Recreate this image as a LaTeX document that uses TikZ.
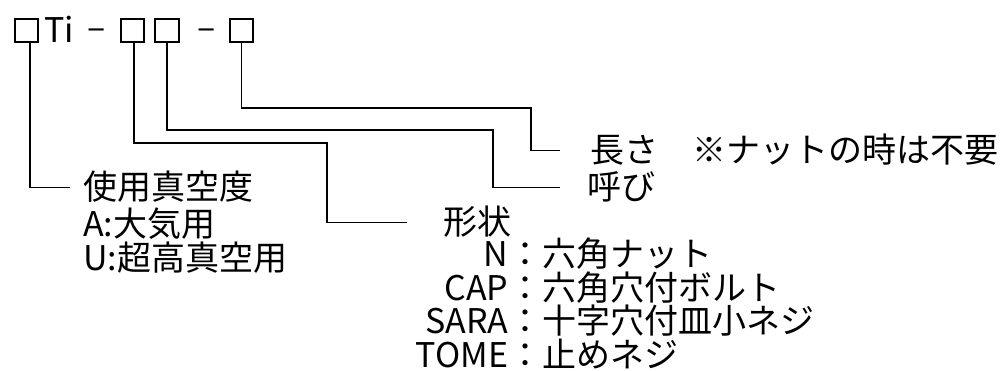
\documentclass[tikz,border=0pt]{standalone}
\usepackage{fontspec}
\setmainfont{Noto Sans CJK JP}
\begin{document}
\begin{tikzpicture}[x=1pt,y=-1pt,
  txt/.style={anchor=base west,inner sep=0pt,font=\fontsize{34pt}{35pt}\selectfont},
  blank/.style={draw,line width=1.8pt,minimum size=23.5pt,inner sep=0pt},
  lead/.style={line width=1.2pt}]
  \useasboundingbox (0,0) rectangle (1007,371);
  \node[blank] (b1) at (26.5,30.5) {};
  \node[txt] (ti) at (44,43) {Ti};
  \node[txt] (d1) at (87,40) {–};
  \node[blank] (b2) at (132.5,30.5) {};
  \node[blank] (b3) at (167,30.5) {};
  \node[txt] (d2) at (197,40) {–};
  \node[blank] (b4) at (241.5,30.5) {};
  \node[txt] (vac) at (83,200) {使用真空度};
  \node[txt] (vacA) at (83,237) {A:大気用};
  \node[txt] (vacU) at (83,271) {U:超高真空用};
  \node[txt] (keijo) at (443,235) {形状};
  \node[txt] (kN) at (415,267) {\makebox[93pt][r]{N}：六角ナット};
  \node[txt] (kCAP) at (415,301) {\makebox[93pt][r]{CAP}：六角穴付ボルト};
  \node[txt] (kSARA) at (415,334) {\makebox[93pt][r]{SARA}：十字穴付皿小ネジ};
  \node[txt] (kTOME) at (415,367) {\makebox[93pt][r]{TOME}：止めネジ};
  \node[txt] (yobi) at (587,200) {呼び};
  \node[txt] (nagasa) at (590,163) {長さ　※ナットの時は不要};
  \draw[lead] ([xshift=3.5pt]b1.south) |- ([xshift=-13pt]vac.west);
  \draw[lead] ([xshift=1.5pt]b2.south) |- (327,143) |- ([xshift=-36pt]keijo.west);
  \draw[lead] (b3.south) |- (493,130) |- ([xshift=-27pt]yobi.west);
  \draw[lead] (b4.south) |- (531,108) |- ([xshift=-30pt]nagasa.west);
\end{tikzpicture}
\end{document}
